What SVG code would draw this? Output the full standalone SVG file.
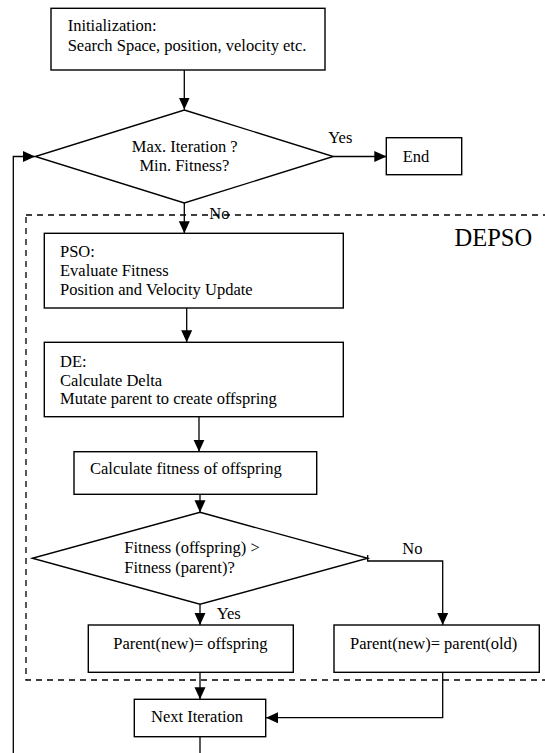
<svg xmlns="http://www.w3.org/2000/svg" width="545" height="753" viewBox="0 0 545 753">
<style>
text{font-family:"Liberation Serif","Times New Roman",serif;font-size:16.5px;fill:#000}
.box{fill:#fff;stroke:#000;stroke-width:1.4}
.c{fill:none;stroke:#000;stroke-width:1.3}
.dash{fill:none;stroke:#000;stroke-width:1.3;stroke-dasharray:6 5}
.big{font-size:24.5px}
.mid{text-anchor:middle}
</style>
<defs>
<marker id="ah" markerUnits="userSpaceOnUse" markerWidth="12" markerHeight="12" refX="12" refY="6" orient="auto" viewBox="0 0 12 12">
<path d="M0,0.5 L12,6 L0,11.5 z" fill="#000"/>
</marker>
</defs>
<rect id="depso-region" class="dash" x="26" y="215" width="540" height="465"/>
<text class="big" x="454.5" y="246">DEPSO</text>
<g id="connectors">
<path class="c" d="M184.3,70 V109.5" marker-end="url(#ah)"/>
<path class="c" d="M333.3,156.5 H386.3" marker-end="url(#ah)"/>
<path class="c" d="M184.3,203 V233.3" marker-end="url(#ah)"/>
<path class="c" d="M186.7,308 V342.3" marker-end="url(#ah)"/>
<path class="c" d="M199,416.7 V451.7" marker-end="url(#ah)"/>
<path class="c" d="M200,494.3 V512.3" marker-end="url(#ah)"/>
<path class="c" d="M367.7,555 V561 H442.7 V625" marker-end="url(#ah)"/>
<path class="c" d="M200,604.3 V625" marker-end="url(#ah)"/>
<path class="c" d="M200,672.3 V699.3" marker-end="url(#ah)"/>
<path class="c" d="M442.7,672.3 V717.7 H266" marker-end="url(#ah)"/>
<path class="c" d="M200,736.7 V753"/>
<path class="c" d="M13.3,753 V156.5 H35" marker-end="url(#ah)"/>
<text x="328.3" y="142.7">Yes</text>
<text x="209.3" y="219.3">No</text>
<text x="402.3" y="554.3">No</text>
<text x="216.7" y="619">Yes</text>
</g>
<g id="init">
<rect class="box" x="51" y="8.3" width="274" height="61.7"/>
<text x="67.7" y="30.7">Initialization:</text>
<text x="67.7" y="50.7">Search Space, position, velocity etc.</text>
</g>
<g id="check-stop">
<path class="box" d="M184.3,110 L333.3,156.5 L184.3,203 L35.3,156.5 Z"/>
<text class="mid" x="184.7" y="151.7">Max. Iteration ?</text>
<text class="mid" x="184.3" y="171">Min. Fitness?</text>
</g>
<g id="end">
<rect class="box" x="386.3" y="137.7" width="75.4" height="37"/>
<text x="402.7" y="161.7">End</text>
</g>
<g id="pso">
<rect class="box" x="44.3" y="233.3" width="299" height="74.7"/>
<text x="60" y="256.7">PSO:</text>
<text x="60" y="276">Evaluate Fitness</text>
<text x="60" y="295">Position and Velocity Update</text>
</g>
<g id="de">
<rect class="box" x="44.3" y="342.3" width="299" height="74.4"/>
<text x="60" y="366.7">DE:</text>
<text x="60" y="385.5">Calculate Delta</text>
<text x="60" y="404.3">Mutate parent to create offspring</text>
</g>
<g id="calc-fitness">
<rect class="box" x="74" y="451.7" width="242.7" height="42.6"/>
<text x="90" y="474.3">Calculate fitness of offspring</text>
</g>
<g id="compare">
<path class="box" d="M200,512.3 L367.7,558.3 L200,604.3 L32.3,558.3 Z"/>
<text x="124.3" y="553.3">Fitness (offspring) &gt;</text>
<text x="124.3" y="573.3">Fitness (parent)?</text>
</g>
<g id="parent-offspring">
<rect class="box" x="88.3" y="625" width="205" height="47.3"/>
<text x="113.3" y="648.5">Parent(new)= offspring</text>
</g>
<g id="parent-old">
<rect class="box" x="334" y="625" width="205.3" height="47.3"/>
<text x="350" y="649.3">Parent(new)= parent(old)</text>
</g>
<g id="next-iteration">
<rect class="box" x="134.3" y="699.3" width="131.4" height="37.4"/>
<text x="151" y="722.3">Next Iteration</text>
</g>
</svg>
